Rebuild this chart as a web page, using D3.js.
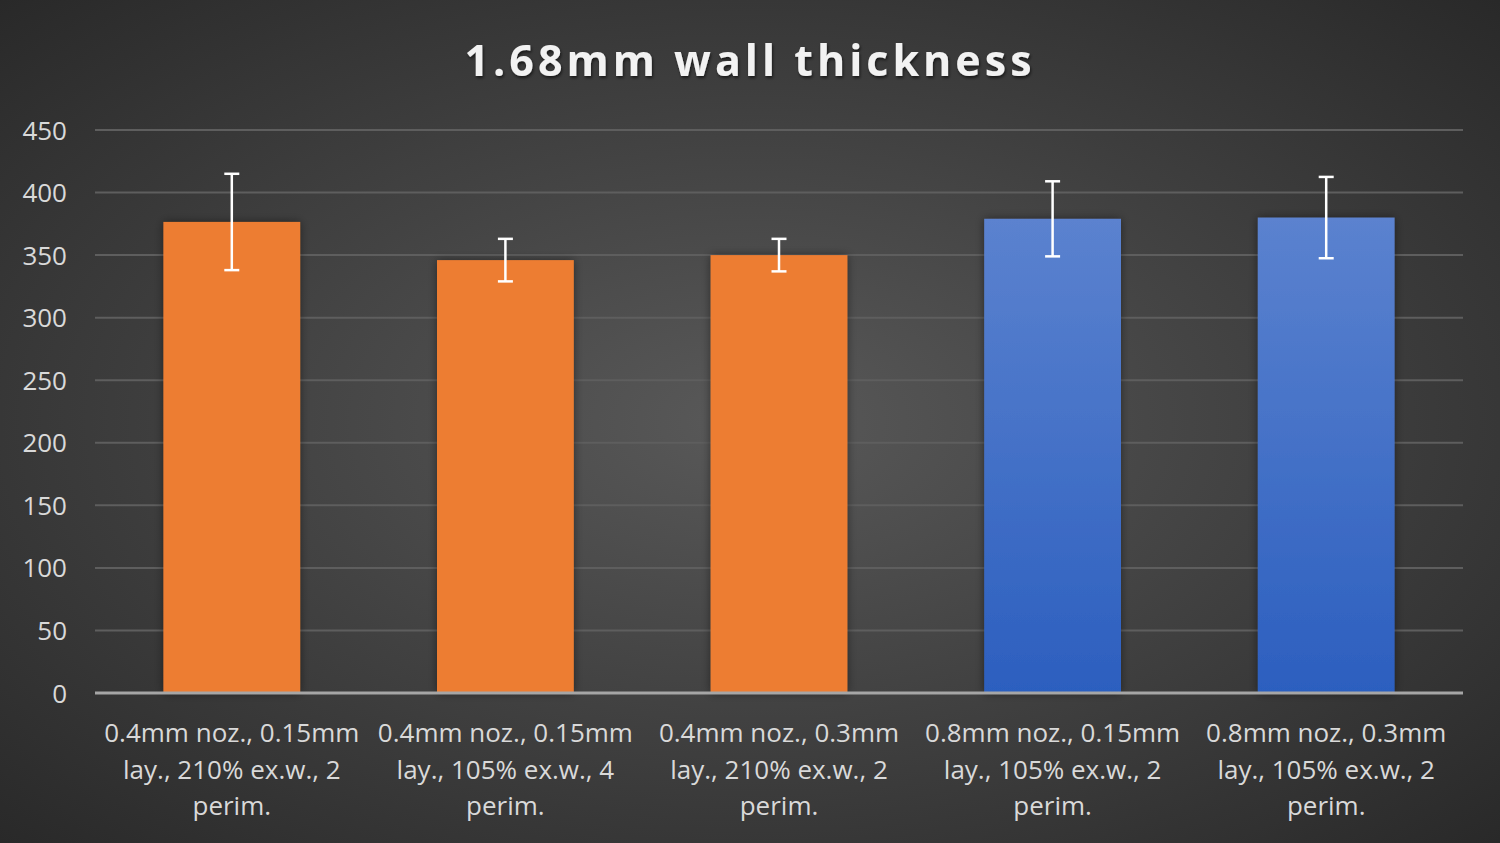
<!DOCTYPE html>
<html>
<head>
<meta charset="utf-8">
<script src="https://cdn.jsdelivr.net/npm/d3@7"></script>
<style>
  html, body { margin: 0; padding: 0; background: #333; }
  svg { display: block; }
  text { font-family: "Open Sans", "Noto Sans", sans-serif; }
</style>
</head>
<body>
<svg id="chart" width="1500" height="843"></svg>
<script>
"use strict"

var categories = [
  ["0.4mm noz., 0.15mm", "lay., 210% ex.w., 2", "perim."],
  ["0.4mm noz., 0.15mm", "lay., 105% ex.w., 4", "perim."],
  ["0.4mm noz., 0.3mm", "lay., 210% ex.w., 2", "perim."],
  ["0.8mm noz., 0.15mm", "lay., 105% ex.w., 2", "perim."],
  ["0.8mm noz., 0.3mm", "lay., 105% ex.w., 2", "perim."]
];
var values = [376.5, 346, 350, 379, 380];
var errors = [38.5, 17, 13, 30, 32.5];
var nozzle = ["0.4", "0.4", "0.4", "0.8", "0.8"];
var yTicks = [0, 50, 100, 150, 200, 250, 300, 350, 400, 450];

var W = 1500, H = 843;
var margin = {top: 130, right: 37, bottom: 150, left: 95};

var svg = d3.select("#chart");
var defs = svg.append("defs");

//background
var bg = defs.append("radialGradient").attr("id", "bg")
  .attr("cx", "50%").attr("cy", "50%").attr("r", "75%");
bg.append("stop").attr("offset", "0%").attr("stop-color", "#595959");
bg.append("stop").attr("offset", "100%").attr("stop-color", "#262626");

var blue = defs.append("linearGradient").attr("id", "blue")
  .attr("x1", 0).attr("y1", 0).attr("x2", 0).attr("y2", 1);
blue.append("stop").attr("offset", "0%").attr("stop-color", "#5b82cf");
blue.append("stop").attr("offset", "100%").attr("stop-color", "#2c5fbf");

var shadow = defs.append("filter").attr("id", "shadow")
  .attr("x", "-20%").attr("y", "-20%").attr("width", "140%").attr("height", "140%");
shadow.append("feDropShadow").attr("dx", 0).attr("dy", 0)
  .attr("stdDeviation", 5).attr("flood-color", "#000").attr("flood-opacity", 0.45);

var tshadow = defs.append("filter").attr("id", "tshadow");
tshadow.append("feDropShadow").attr("dx", 1).attr("dy", 2)
  .attr("stdDeviation", 1.5).attr("flood-color", "#000").attr("flood-opacity", 0.6);

svg.append("rect").attr("width", W).attr("height", H).attr("fill", "url(#bg)");

var x = d3.scaleBand()
  .domain(d3.range(categories.length))
  .range([margin.left, W - margin.right])
  .paddingInner(0.5).paddingOuter(0.25);

var y = d3.scaleLinear().domain([0, 450]).range([H - margin.bottom, margin.top]);

//title
svg.append("text")
  .attr("x", W / 2).attr("y", 76)
  .attr("text-anchor", "middle")
  .attr("fill", "#f2f2f2")
  .attr("font-size", 43).attr("font-weight", "bold")
  .attr("letter-spacing", 4)
  .attr("filter", "url(#tshadow)")
  .text("1.68mm wall thickness");

//grid
svg.append("g").selectAll("line").data(yTicks.slice(1)).enter().append("line")
  .attr("x1", margin.left).attr("x2", W - margin.right)
  .attr("y1", function(d){ return y(d); }).attr("y2", function(d){ return y(d); })
  .attr("stroke", "#5e5e5e").attr("stroke-width", 2);

//y axis
var yAxis = svg.append("g")
  .attr("transform", "translate(" + (margin.left - 28) + ",0)")
  .call(d3.axisLeft(y).tickValues(yTicks).tickSize(0).tickPadding(0));
yAxis.select(".domain").remove();
yAxis.selectAll("text")
  .attr("fill", "#d9d9d9").attr("font-size", 26)
  .attr("font-family", "'Open Sans', 'Noto Sans', sans-serif")
  .attr("dy", "0.35em");

//bars
svg.append("g").selectAll("rect").data(values).enter().append("rect")
  .attr("x", function(d, i){ return x(i); })
  .attr("width", x.bandwidth())
  .attr("y", function(d){ return y(d); })
  .attr("height", function(d){ return y(0) - y(d); })
  .attr("fill", function(d, i){ return nozzle[i] === "0.4" ? "#ed7d31" : "url(#blue)"; })
  .attr("filter", "url(#shadow)");

//baseline
svg.append("line")
  .attr("x1", margin.left).attr("x2", W - margin.right)
  .attr("y1", y(0)).attr("y2", y(0))
  .attr("stroke", "#a6a6a6").attr("stroke-width", 3);

//error bars
var eb = svg.append("g").selectAll("g").data(values).enter().append("g")
  .attr("stroke", "#ffffff").attr("stroke-width", 2.5);
eb.append("line")
  .attr("x1", function(d, i){ return x(i) + x.bandwidth() / 2; })
  .attr("x2", function(d, i){ return x(i) + x.bandwidth() / 2; })
  .attr("y1", function(d, i){ return y(d + errors[i]); })
  .attr("y2", function(d, i){ return y(d - errors[i]); });
[1, -1].forEach(function(s){
  eb.append("line")
    .attr("x1", function(d, i){ return x(i) + x.bandwidth() / 2 - 7.5; })
    .attr("x2", function(d, i){ return x(i) + x.bandwidth() / 2 + 7.5; })
    .attr("y1", function(d, i){ return y(d + s * errors[i]); })
    .attr("y2", function(d, i){ return y(d + s * errors[i]); });
});

//category labels
var cl = svg.append("g").selectAll("text").data(categories).enter().append("text")
  .attr("text-anchor", "middle")
  .attr("fill", "#d9d9d9").attr("font-size", 26)
  .attr("x", function(d, i){ return x(i) + x.bandwidth() / 2; })
  .attr("y", 742);
cl.selectAll("tspan").data(function(d){ return d; }).enter().append("tspan")
  .attr("x", function(){ return d3.select(this.parentNode).attr("x"); })
  .attr("dy", function(d, j){ return j === 0 ? 0 : 36.5; })
  .text(function(d){ return d; });
</script>
</body>
</html>
